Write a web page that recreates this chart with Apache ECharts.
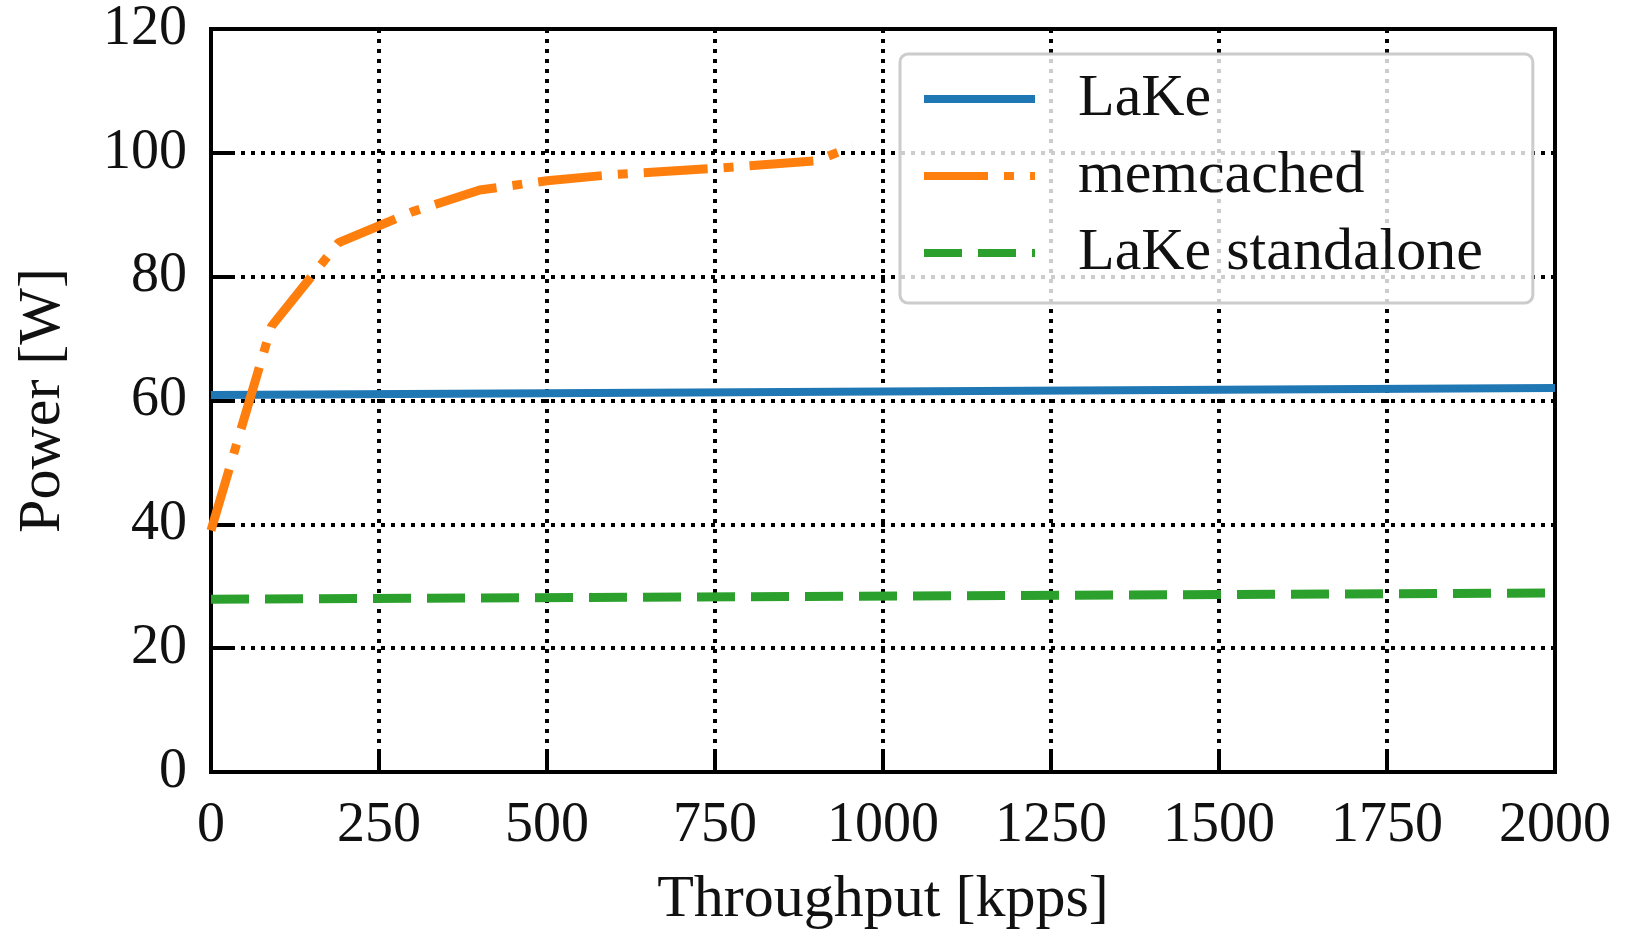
<!DOCTYPE html>
<html>
<head>
<meta charset="utf-8">
<script src="https://cdn.jsdelivr.net/npm/echarts@6/dist/echarts.min.js"></script>
<style>html,body{margin:0;padding:0;background:#fff}#c{width:1631px;height:929px}</style>
</head>
<body>
<div id="c"></div>
<script>
const seriesNames = ['LaKe', 'memcached', 'LaKe standalone'];
const lakeX = [0, 2000];
const lakeY = [60.9, 62.0];
const memX = [0, 90, 190, 300, 400, 500, 600, 750, 900, 955];
const memY = [39, 72, 85.5, 90.5, 94, 95.5, 96.5, 97.5, 98.7, 101];
const standX = [0, 2000];
const standY = [27.9, 28.9];
const xTicks = [0, 250, 500, 750, 1000, 1250, 1500, 1750, 2000];
const yTicks = [0, 20, 40, 60, 80, 100, 120];

const zip = (xs, ys) => xs.map((x, i) => [x, ys[i]]);
const FONT = '"Liberation Serif", "DejaVu Serif", serif';
const chart = echarts.init(document.getElementById('c'), null, {renderer: 'canvas'});
const dotted = {color: '#000', width: 4, type: [4, 6]};
const DASHDOT = [64, 16, 10, 16];
const DASH = [38, 16];
chart.setOption({
  animation: false,
  backgroundColor: '#fff',
  textStyle: {fontFamily: FONT, color: '#111'},
  grid: {left: 211, right: 76, top: 29, bottom: 157, containLabel: false, outerBoundsMode: 'none',
         show: true, borderColor: '#000', borderWidth: 4, backgroundColor: 'transparent'},
  xAxis: {
    type: 'value', min: xTicks[0], max: xTicks[xTicks.length - 1], interval: 250,
    name: 'Throughput [kpps]', nameLocation: 'middle', nameGap: 98,
    nameTextStyle: {fontFamily: FONT, fontSize: 60, color: '#111'},
    axisLine: {show: true, lineStyle: {color: '#000', width: 4}},
    axisTick: {show: true, inside: true, length: 20, lineStyle: {color: '#000', width: 4}},
    axisLabel: {fontFamily: FONT, fontSize: 56, color: '#111', margin: 26, formatter: v => String(v)},
    splitLine: {show: true, lineStyle: dotted}
  },
  yAxis: {
    type: 'value', min: yTicks[0], max: yTicks[yTicks.length - 1], interval: 20,
    name: 'Power [W]', nameLocation: 'middle', nameGap: 138,
    nameTextStyle: {fontFamily: FONT, fontSize: 60, color: '#111'},
    axisLine: {show: true, lineStyle: {color: '#000', width: 4}},
    axisTick: {show: true, inside: true, length: 20, lineStyle: {color: '#000', width: 4}},
    axisLabel: {fontFamily: FONT, fontSize: 56, color: '#111', margin: 24, formatter: v => String(v)},
    splitLine: {show: true, lineStyle: dotted}
  },
  legend: {
    orient: 'vertical', left: 900, top: 54,
    padding: [15, 50, 20, 20], itemGap: 17, itemWidth: 111, itemHeight: 60,
    backgroundColor: 'rgba(255,255,255,0.8)', borderColor: '#cccccc', borderWidth: 3, borderRadius: 8,
    textStyle: {fontFamily: FONT, fontSize: 60, color: '#111', lineHeight: 60, padding: [0, 0, 0, 38]},
    itemStyle: {opacity: 0},
    lineStyle: {width: 8},
    data: seriesNames,
    z: 10
  },
  series: [
    {name: seriesNames[0], type: 'line', data: zip(lakeX, lakeY), showSymbol: false, symbol: 'none',
     lineStyle: {color: '#1f77b4', width: 8}, itemStyle: {color: '#1f77b4'}, z: 3},
    {name: seriesNames[1], type: 'line', data: zip(memX, memY), showSymbol: false, symbol: 'none',
     lineStyle: {color: '#ff7f0e', width: 9, type: DASHDOT}, itemStyle: {color: '#ff7f0e'}, z: 3},
    {name: seriesNames[2], type: 'line', data: zip(standX, standY), showSymbol: false, symbol: 'none',
     lineStyle: {color: '#2ca02c', width: 9, type: DASH}, itemStyle: {color: '#2ca02c'}, z: 3}
  ]
});
</script>
</body>
</html>
